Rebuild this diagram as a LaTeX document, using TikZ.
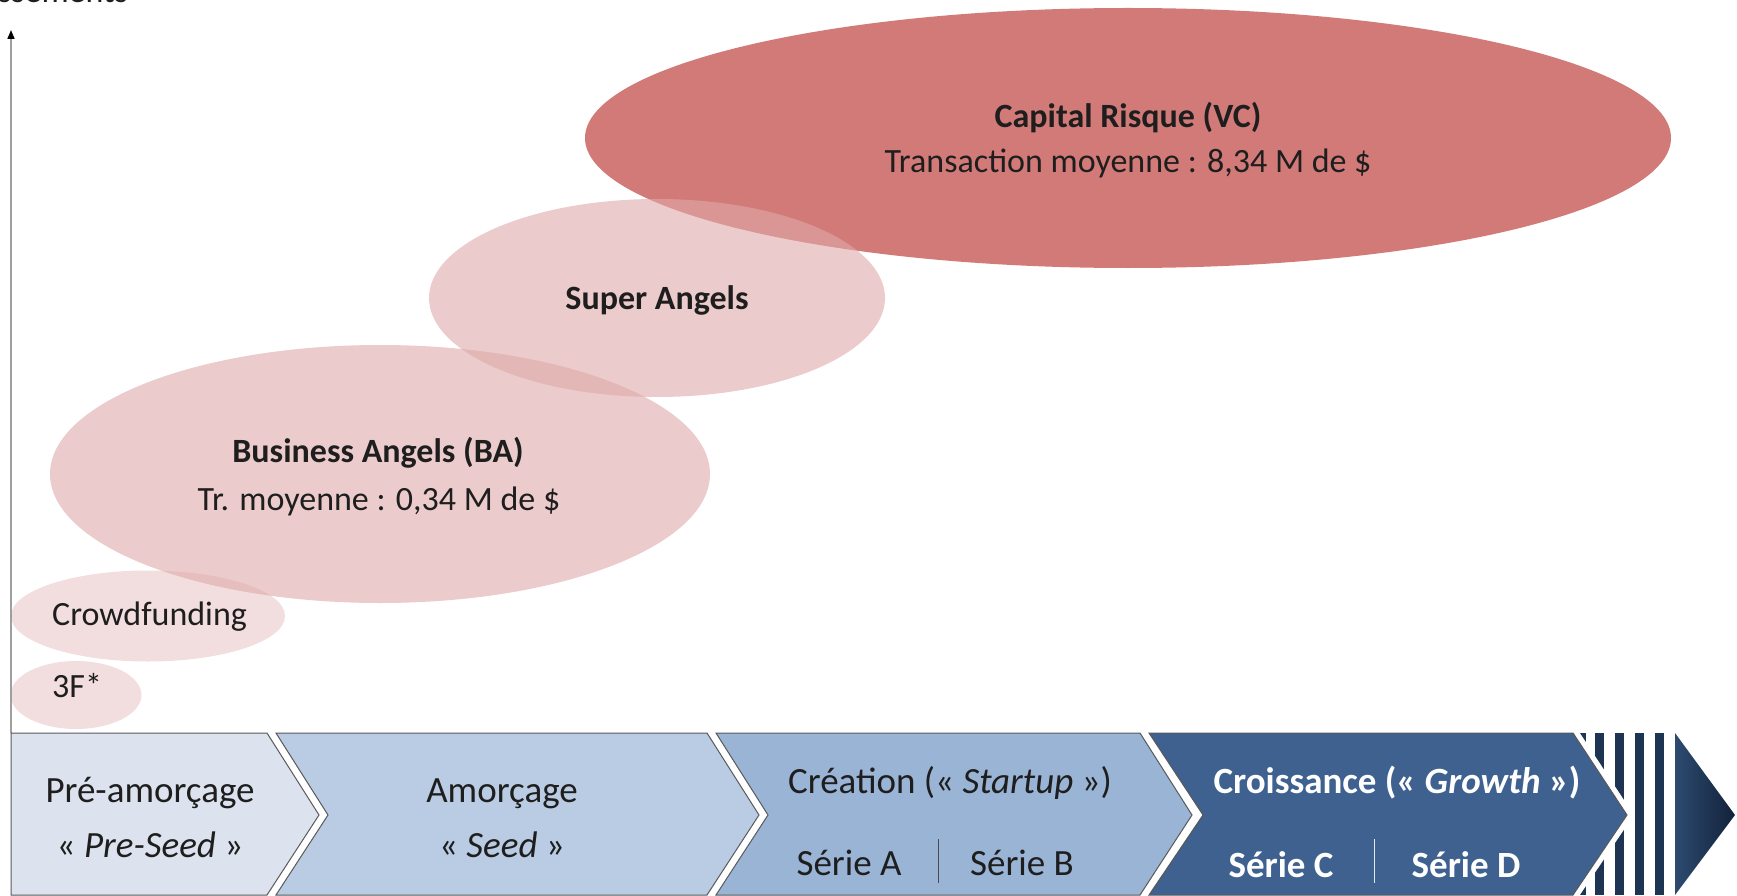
\documentclass[tikz,border=0pt]{standalone}
\usepackage{fontspec}
\setmainfont{Carlito}
\usetikzlibrary{arrows.meta,shapes.geometric}
\definecolor{vcred}{HTML}{D27A78}
\definecolor{pinkA}{HTML}{DEA9A8}
\definecolor{chA}{HTML}{DCE3EE}
\definecolor{chB}{HTML}{BACCE3}
\definecolor{chC}{HTML}{9AB4D6}
\definecolor{chD}{HTML}{3E6190}
\definecolor{navy}{HTML}{1E3453}
\definecolor{navyL}{HTML}{2D4B70}
\definecolor{navyD}{HTML}{12213A}
\definecolor{txt}{HTML}{1E1E1E}
\tikzset{
  bubble/.style={ellipse, inner sep=0pt, draw=none},
  bubbletxt/.style={inner sep=0pt, anchor=base, text=txt, font=\fontsize{34}{40}\selectfont},
  pinkfill/.style={fill=pinkA, fill opacity=0.6},
  palefill/.style={fill=pinkA, fill opacity=0.38},
  chevline/.style={draw=gray!70!black, line width=1pt},
  stagetxt/.style={inner sep=0pt, anchor=base, text=txt, font=\fontsize{37}{44}\selectfont},
  stagetxtw/.style={inner sep=0pt, anchor=base, text=white, font=\fontsize{37}{44}\selectfont\bfseries},
  divider/.style={draw=gray!60!black, line width=1pt},
}
\begin{document}
\begin{tikzpicture}[x=1pt,y=-1pt]
\useasboundingbox (0,0) rectangle (1737,896);

% axis label (cut at top)
\node[inner sep=0pt, anchor=base east, text=txt, font=\fontsize{34}{40}\selectfont] (ylabel) at (128,3) {Investissements};

% bubbles
\node[bubble, fill=vcred, minimum width=1086pt, minimum height=260pt] (vc) at (1128,138) {};
\node[bubble, pinkfill, minimum width=456pt, minimum height=198pt] (sa) at (657,298) {};
\node[bubble, pinkfill, minimum width=660pt, minimum height=258pt] (ba) at (380,474) {};
\node[bubble, palefill, minimum width=274pt, minimum height=91pt] (cf) at (148,616) {};
\node[bubble, palefill, minimum width=131pt, minimum height=68pt] (ff) at (76,695) {};

\node[bubbletxt] (vct1) at (1128,128) {\bfseries Capital Risque (VC)};
\node[bubbletxt] (vct2) at (1128,173) {Transaction moyenne : 8,34 M de \$};
\node[bubbletxt] (sat) at (657,309) {\bfseries Super Angels};
\node[bubbletxt] (bat1) at (378,462) {\bfseries Business Angels (BA)};
\node[bubbletxt] (bat2) at (379,510) {Tr. moyenne : 0,34 M de \$};
\node[bubbletxt, anchor=base west] (cft) at (52,625) {Crowdfunding};
\node[bubbletxt, anchor=base west] (fft) at (52,697) {3F*};

% y axis
\coordinate (axb) at (11,733);
\coordinate (axt) at (11,30);
\draw[gray!75, line width=1.6pt, -{Triangle[length=9pt, width=7pt, color=black]}] (axb) -- (axt);

% chevrons
\def\T{733}\def\B{895}\def\M{815}
\filldraw[fill=chA, chevline] (11,\T) -- (267,\T) -- (319,\M) -- (267,\B) -- (11,\B) -- cycle;
\filldraw[fill=chB, chevline] (276,\T) -- (707,\T) -- (759,\M) -- (707,\B) -- (276,\B) -- (328,\M) -- cycle;
\filldraw[fill=chC, chevline] (716,\T) -- (1140,\T) -- (1192,\M) -- (1140,\B) -- (716,\B) -- (768,\M) -- cycle;
\filldraw[fill=chD, chevline] (1149,\T) -- (1573,\T) -- (1627,\M) -- (1573,\B) -- (1149,\B) -- (1203,\M) -- cycle;

% stripes
\begin{scope}
\clip (1580,\T) -- (1666,\T) -- (1666,\B) -- (1580,\B) -- (1634,\M) -- cycle;
\foreach \a/\b in {1577/1586,1595/1604,1615/1624,1635/1644,1655/1664}
  \fill[navy] (\a,\T) rectangle (\b,\B);
\end{scope}
\shade[left color=navyL, right color=navyD] (1675,\T) -- (1735,\M) -- (1675,\B) -- cycle;

% stage texts
\node[stagetxt] (s1a) at (150,802) {Pré-amorçage};
\node[stagetxt] (s1b) at (150,857) {« \textit{Pre-Seed} »};
\node[stagetxt] (s2a) at (502,802) {Amorçage};
\node[stagetxt] (s2b) at (502,857) {« \textit{Seed} »};
\node[stagetxt] (s3a) at (950,793) {Création (« \textit{Startup} »)};
\node[stagetxt] (s3b) at (849,875) {Série A};
\node[stagetxt] (s3c) at (1022,875) {Série B};
\node[stagetxtw] (s4a) at (1397,793) {Croissance (« \textit{Growth} »)};
\node[stagetxtw] (s4b) at (1281,877) {Série C};
\node[stagetxtw] (s4c) at (1466,877) {Série D};

\coordinate (d1t) at (938,839);
\coordinate (d1b) at (938,883);
\coordinate (d2t) at (1374,839);
\coordinate (d2b) at (1374,883);
\draw[divider] (d1t) -- (d1b);
\draw[draw=white!85!chD, line width=1pt] (d2t) -- (d2b);
\end{tikzpicture}
\end{document}
